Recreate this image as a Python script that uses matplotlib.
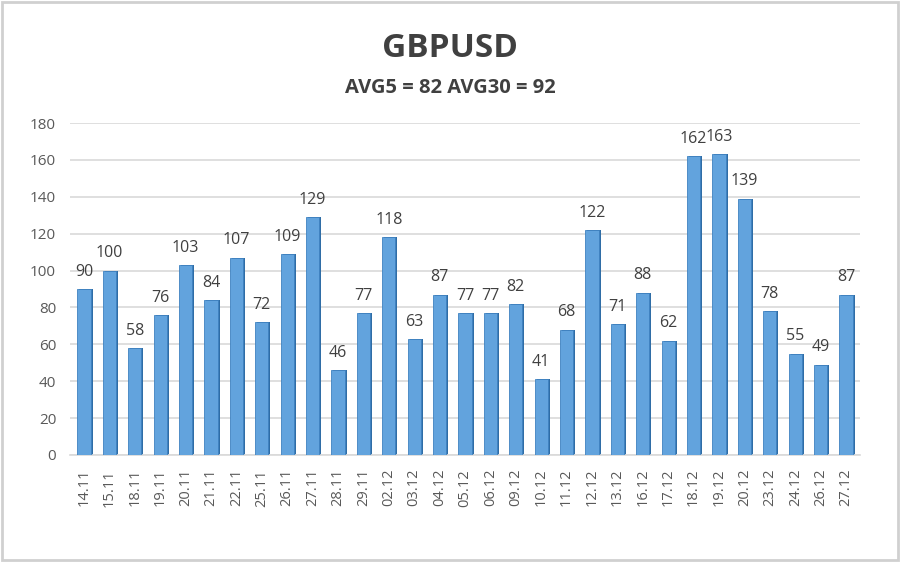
import matplotlib.pyplot as plt
from matplotlib.patches import Rectangle

# Daily GBPUSD volatility (points)
dates = ["14.11", "15.11", "18.11", "19.11", "20.11", "21.11", "22.11", "25.11",
         "26.11", "27.11", "28.11", "29.11", "02.12", "03.12", "04.12", "05.12",
         "06.12", "09.12", "10.12", "11.12", "12.12", "13.12", "16.12", "17.12",
         "18.12", "19.12", "20.12", "23.12", "24.12", "26.12", "27.12"]
values = [90, 100, 58, 76, 103, 84, 107, 72, 109, 129, 46, 77, 118, 63, 87, 77,
          77, 82, 41, 68, 122, 71, 88, 62, 162, 163, 139, 78, 55, 49, 87]
yticks = [0, 20, 40, 60, 80, 100, 120, 140, 160, 180]

title = "GBPUSD"
subtitle = "AVG5 = 82 AVG30 = 92"

plt.rcParams["font.family"] = ["Open Sans", "DejaVu Sans"]

fig = plt.figure(figsize=(9, 5.62), dpi=100)
fig.patch.set_facecolor("white")
fig.patches.append(Rectangle((0.002, 0.003), 0.996, 0.994, transform=fig.transFigure,
                             fill=False, edgecolor="#d0d0d0", linewidth=2))

ax = fig.add_axes([0.0778, 0.1904, 0.8778, 0.5907])

x = list(range(len(values)))
bar_w = 0.52
# darker side face for a slight 3D look
ax.bar([i + 0.08 for i in x], values, width=bar_w, color="#2f6da6", zorder=2)
ax.bar(x, values, width=bar_w, color="#62a3dd", edgecolor="#3f82c0",
       linewidth=0.6, zorder=3)

for i, v in zip(x, values):
    ax.text(i, v + 5, str(v), ha="center", va="bottom", fontsize=11.5,
            color="#404040", zorder=4)

ax.set_xlim(-0.55, len(values) - 0.45)
ax.set_ylim(0, 180)
ax.set_yticks(yticks)
ax.set_xticks(x)
ax.set_xticklabels(dates, rotation=90, fontsize=10.5, color="#595959")
ax.tick_params(axis="y", labelsize=11, labelcolor="#595959", length=0, pad=10)
ax.tick_params(axis="x", length=0, pad=10)
ax.grid(axis="y", color="#d9d9d9", linewidth=1.2, zorder=0)
ax.set_axisbelow(True)
for side in ["top", "right", "left"]:
    ax.spines[side].set_visible(False)
ax.spines["bottom"].set_color("#d9d9d9")
ax.spines["bottom"].set_linewidth(1.2)

fig.text(0.5, 0.913, title, ha="center", va="center", fontsize=24,
         fontweight="bold", color="#404040")
fig.text(0.5, 0.843, subtitle, ha="center", va="center", fontsize=14.5,
         fontweight="bold", color="#404040")

plt.savefig("out.png", dpi=100)
